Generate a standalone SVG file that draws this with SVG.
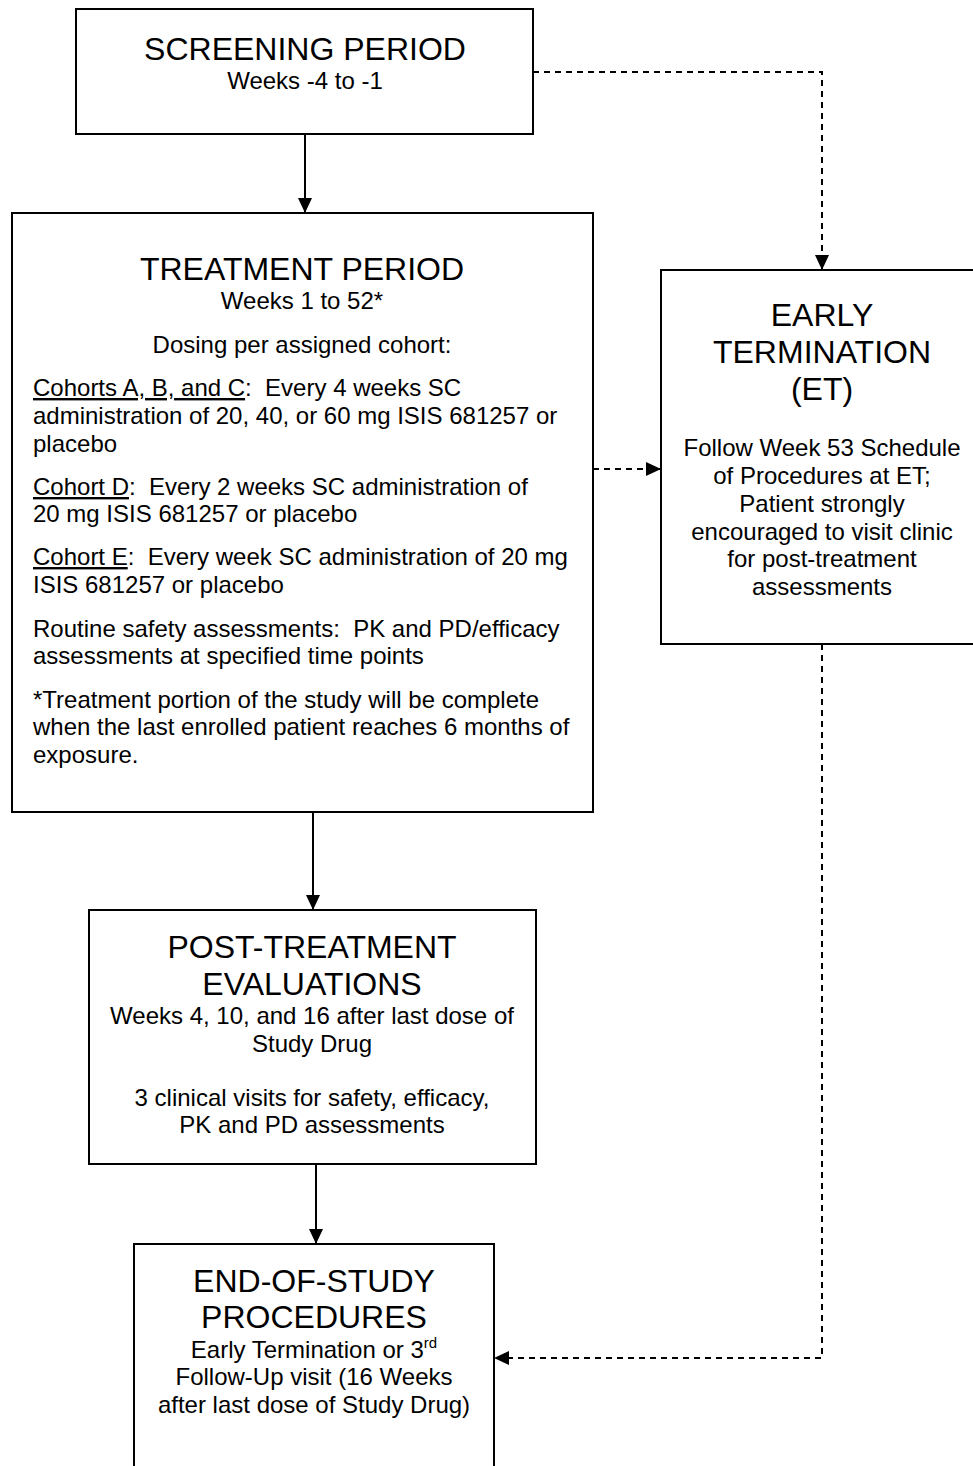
<svg xmlns="http://www.w3.org/2000/svg" width="973" height="1466" viewBox="0 0 973 1466">
<style>
.box{fill:#fff;stroke:#000;stroke-width:2}
.t{font-family:"Liberation Sans",Arial,sans-serif;font-size:32px;fill:#000;text-anchor:middle}
.b{font-family:"Liberation Sans",Arial,sans-serif;font-size:24px;fill:#000}
.c{text-anchor:middle}
.ln{fill:none;stroke:#000;stroke-width:2}
.d{stroke-dasharray:6,5}
.u{text-decoration:underline}
</style>
<defs>
<marker id="ah" markerWidth="15" markerHeight="14" refX="15" refY="7" orient="auto" markerUnits="userSpaceOnUse">
<path d="M0,0 L15,7 L0,14 Z" fill="#000"/>
</marker>
</defs>
<rect width="973" height="1466" fill="#fff"/>
<g id="connectors">
<path class="ln" d="M305,134 L305,213" marker-end="url(#ah)"/>
<path class="ln d" d="M533,72 L822,72 L822,270" marker-end="url(#ah)"/>
<path class="ln d" d="M593,469 L661,469" marker-end="url(#ah)"/>
<path class="ln" d="M313,812 L313,910" marker-end="url(#ah)"/>
<path class="ln" d="M316,1164 L316,1244" marker-end="url(#ah)"/>
<path class="ln d" d="M822,644 L822,1358 L494,1358" marker-end="url(#ah)"/>
</g>
<g id="screening">
<rect class="box" x="76" y="9" width="457" height="125"/>
<text class="t" x="305" y="60">SCREENING PERIOD</text>
<text class="b c" x="305" y="89">Weeks -4 to -1</text>
</g>
<g id="treatment">
<rect class="box" x="12" y="213" width="581" height="599"/>
<text class="t" x="302" y="280">TREATMENT PERIOD</text>
<text class="b c" x="302" y="309">Weeks 1 to 52*</text>
<text class="b c" x="302" y="353">Dosing per assigned cohort:</text>
<text class="b" x="33" y="396" xml:space="preserve"><tspan class="u">Cohorts A, B, and C</tspan>:  Every 4 weeks SC</text>
<text class="b" x="33" y="424">administration of 20, 40, or 60 mg ISIS 681257 or</text>
<text class="b" x="33" y="452">placebo</text>
<text class="b" x="33" y="495" xml:space="preserve"><tspan class="u">Cohort D</tspan>:  Every 2 weeks SC administration of</text>
<text class="b" x="33" y="522">20 mg ISIS 681257 or placebo</text>
<text class="b" x="33" y="565" xml:space="preserve"><tspan class="u">Cohort E</tspan>:  Every week SC administration of 20 mg</text>
<text class="b" x="33" y="593">ISIS 681257 or placebo</text>
<text class="b" x="33" y="637" xml:space="preserve">Routine safety assessments:  PK and PD/efficacy</text>
<text class="b" x="33" y="664">assessments at specified time points</text>
<text class="b" x="33" y="708">*Treatment portion of the study will be complete</text>
<text class="b" x="33" y="735">when the last enrolled patient reaches 6 months of</text>
<text class="b" x="33" y="763">exposure.</text>
</g>
<g id="early-termination">
<rect class="box" x="661" y="270" width="320" height="374"/>
<text class="t" x="822" y="326">EARLY</text>
<text class="t" x="822" y="363">TERMINATION</text>
<text class="t" x="822" y="400">(ET)</text>
<text class="b c" x="822" y="456">Follow Week 53 Schedule</text>
<text class="b c" x="822" y="484">of Procedures at ET;</text>
<text class="b c" x="822" y="512">Patient strongly</text>
<text class="b c" x="822" y="540">encouraged to visit clinic</text>
<text class="b c" x="822" y="567">for post-treatment</text>
<text class="b c" x="822" y="595">assessments</text>
</g>
<g id="post-treatment">
<rect class="box" x="89" y="910" width="447" height="254"/>
<text class="t" x="312" y="958">POST-TREATMENT</text>
<text class="t" x="312" y="995">EVALUATIONS</text>
<text class="b c" x="312" y="1024">Weeks 4, 10, and 16 after last dose of</text>
<text class="b c" x="312" y="1052">Study Drug</text>
<text class="b c" x="312" y="1106">3 clinical visits for safety, efficacy,</text>
<text class="b c" x="312" y="1133">PK and PD assessments</text>
</g>
<g id="end-of-study">
<rect class="box" x="134" y="1244" width="360" height="240"/>
<text class="t" x="314" y="1292">END-OF-STUDY</text>
<text class="t" x="314" y="1328">PROCEDURES</text>
<text class="b c" x="314" y="1358">Early Termination or 3<tspan font-size="15" dy="-10">rd</tspan></text>
<text class="b c" x="314" y="1385">Follow-Up visit (16 Weeks</text>
<text class="b c" x="314" y="1413">after last dose of Study Drug)</text>
</g>
</svg>
